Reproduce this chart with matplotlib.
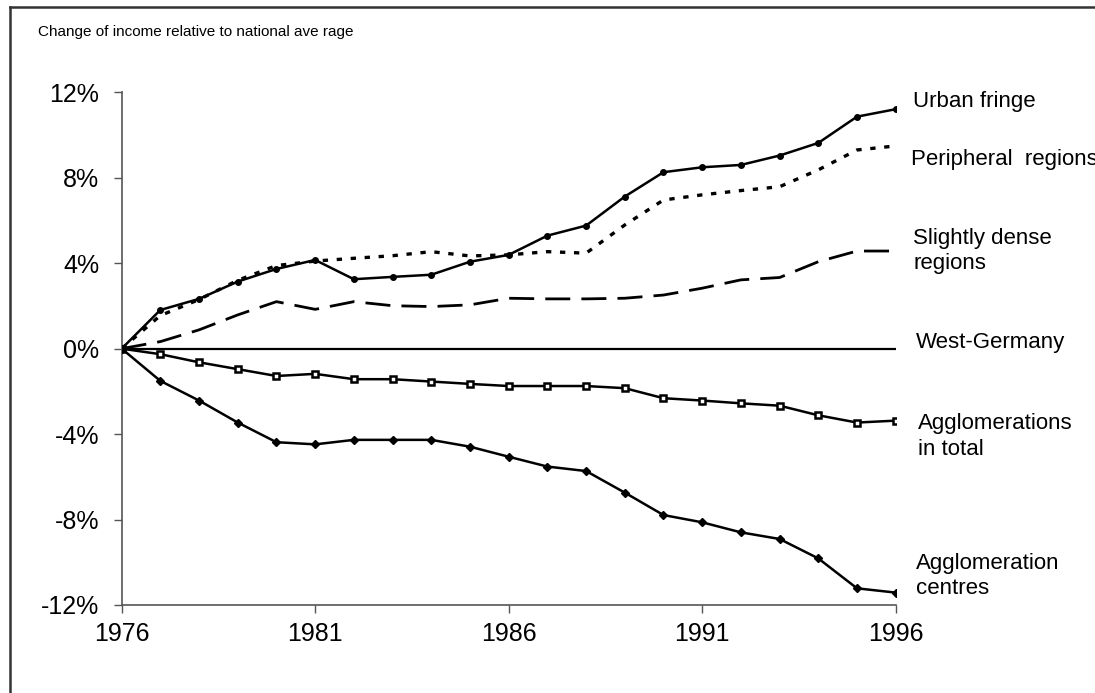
import matplotlib.pyplot as plt
from matplotlib.lines import Line2D

plt.rcParams['font.family'] = ['Liberation Sans', 'DejaVu Sans']

# datos (cambio en % respecto a la media nacional)
anios = list(range(1976, 1997))
urban_fringe = [0, 1.81, 2.33, 3.14, 3.73, 4.15, 3.25, 3.36, 3.46, 4.07, 4.39,
                5.29, 5.76, 7.12, 8.26, 8.49, 8.60, 9.04, 9.63, 10.86, 11.21]
peripheral = [0, 1.55, 2.30, 3.20, 3.89, 4.10, 4.23, 4.35, 4.54, 4.34, 4.39,
              4.54, 4.47, 5.79, 6.96, 7.20, 7.40, 7.58, 8.37, 9.30, 9.49]
slightly_dense = [0, 0.33, 0.88, 1.58, 2.20, 1.84, 2.20, 2.01, 1.97, 2.05, 2.36,
                  2.33, 2.33, 2.36, 2.51, 2.83, 3.22, 3.33, 4.07, 4.57, 4.57]
west_germany = [0] * 21
aggl_total = [0, -0.26, -0.64, -0.96, -1.28, -1.18, -1.43, -1.43, -1.54, -1.65, -1.75,
              -1.75, -1.75, -1.85, -2.32, -2.43, -2.56, -2.67, -3.12, -3.46, -3.37]
aggl_centres = [0, -1.51, -2.43, -3.46, -4.38, -4.48, -4.27, -4.27, -4.27, -4.59, -5.06,
                -5.52, -5.73, -6.74, -7.79, -8.13, -8.60, -8.91, -9.82, -11.22, -11.42]

# (texto, x, y) de las etiquetas a la derecha
etiquetas = [
    ("Urban fringe", 1996.45, 11.55),
    ("Peripheral  regions", 1996.40, 8.84),
    ("Slightly dense\nregions", 1996.45, 4.57),
    ("West-Germany", 1996.52, 0.27),
    ("Agglomerations\nin total", 1996.58, -4.10),
    ("Agglomeration\ncentres", 1996.52, -10.64),
]
y_ticks = [-12, -8, -4, 0, 4, 8, 12]
x_ticks = [1976, 1981, 1986, 1991, 1996]

fig = plt.figure(figsize=(10.95, 6.93), dpi=100)
ax = fig.add_axes([0.1111, 0.127, 0.7069, 0.7398])

ax.plot(anios, west_germany, color='black', lw=1.6, zorder=2)
ax.plot(anios, slightly_dense, color='black', lw=2.0, dashes=(9, 4), zorder=3)
ax.plot(anios, peripheral, color='black', lw=2.4, dashes=(1.6, 2.6), zorder=3)
ax.plot(anios, urban_fringe, color='black', lw=1.8, marker='o', ms=4,
        markeredgewidth=1, zorder=4)
ax.plot(anios, aggl_total, color='black', lw=1.8, marker='s', ms=4,
        markerfacecolor='white', markeredgewidth=1.8, zorder=4)
ax.plot(anios, aggl_centres, color='black', lw=1.8, marker='D', ms=3.8,
        zorder=4)

ax.set_xlim(1976, 1996)
ax.set_ylim(-12, 12)
ax.set_xticks(x_ticks)
ax.set_xticklabels([str(a) for a in x_ticks])
ax.set_yticks(y_ticks)
ax.set_yticklabels([f"{v}%" for v in y_ticks])
ax.tick_params(axis='both', direction='out', length=6, width=1, color='#555555',
               labelsize=18)
ax.tick_params(axis='y', pad=10)
ax.tick_params(axis='x', pad=6)
for lado in ['top', 'right']:
    ax.spines[lado].set_visible(False)
for lado in ['left', 'bottom']:
    ax.spines[lado].set_color('#555555')
    ax.spines[lado].set_linewidth(1.2)

for texto, xv, yv in etiquetas:
    ax.text(xv, yv, texto, fontsize=16, va='center', ha='left',
            linespacing=1.3, clip_on=False)

fig.text(38 / 1095, 1 - 32 / 693, "Change of income relative to national ave rage",
         fontsize=11, va='center', ha='left')

# marco exterior (solo arriba e izquierda visibles)
fig.add_artist(Line2D([10 / 1095, 1.0], [1 - 7 / 693, 1 - 7 / 693],
                      transform=fig.transFigure, color='#333333', lw=1.8))
fig.add_artist(Line2D([10 / 1095, 10 / 1095], [0, 1 - 7 / 693],
                      transform=fig.transFigure, color='#333333', lw=1.8))

fig.savefig('out.png', dpi=100)
